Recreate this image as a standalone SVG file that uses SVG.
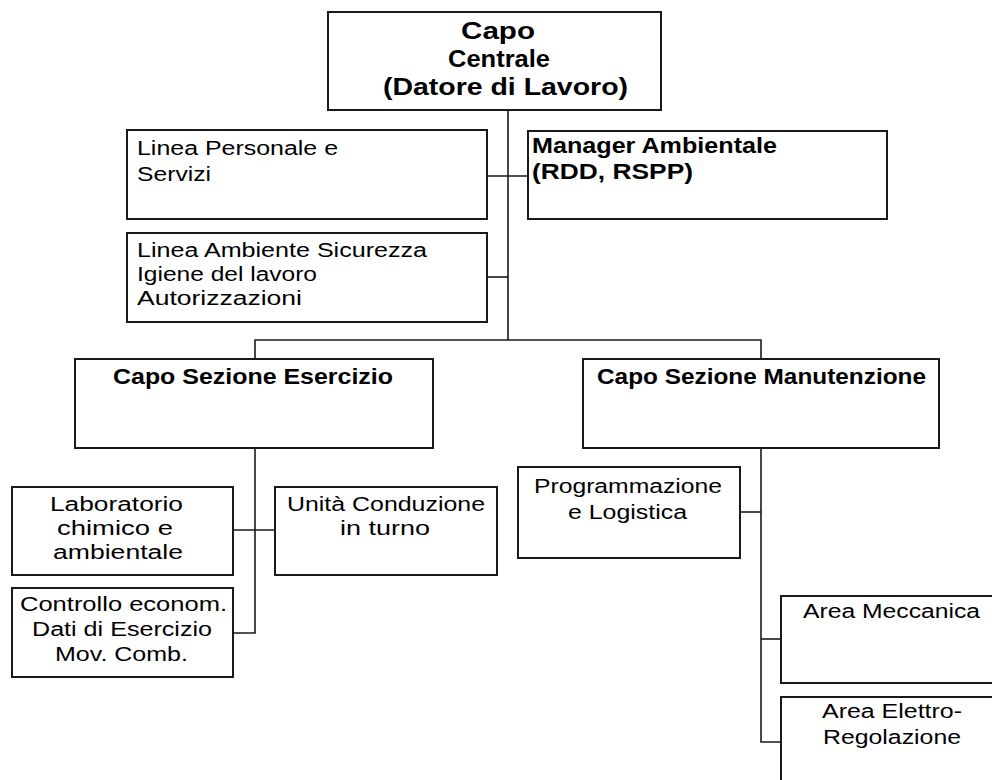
<svg xmlns="http://www.w3.org/2000/svg" width="992" height="780" viewBox="0 0 992 780">
<style>
.box{fill:#fff;stroke:#1a1a1a;stroke-width:2}
.c{fill:none;stroke:#1a1a1a;stroke-width:1.6}
text{font-family:"Liberation Sans",Arial,sans-serif;fill:#000}
.r{font-size:20px}
.b{font-size:22px;font-weight:bold}
.t{font-size:24px;font-weight:bold}
</style>
<rect width="992" height="780" fill="#fff"/>
<g id="connectors">
<path class="c" d="M508,110 V340"/>
<path class="c" d="M487,176 H528"/>
<path class="c" d="M487,277 H508"/>
<path class="c" d="M255,359 V340 H761 V359"/>
<path class="c" d="M255,448 V633 H233"/>
<path class="c" d="M233,530 H275"/>
<path class="c" d="M761,448 V742 H781"/>
<path class="c" d="M740,512 H761"/>
<path class="c" d="M761,639 H781"/>
</g>
<g id="capo-centrale">
<rect class="box" x="328" y="12" width="333" height="98"/>
<text class="t" x="461" y="39" textLength="74" lengthAdjust="spacingAndGlyphs">Capo</text>
<text class="t" x="448" y="67" textLength="102" lengthAdjust="spacingAndGlyphs">Centrale</text>
<text class="t" x="383" y="95" textLength="245" lengthAdjust="spacingAndGlyphs">(Datore di Lavoro)</text>
</g>
<g id="linea-personale">
<rect class="box" x="127" y="130" width="360" height="89"/>
<text class="r" x="137" y="155" textLength="201" lengthAdjust="spacingAndGlyphs">Linea Personale e</text>
<text class="r" x="137" y="181" textLength="74" lengthAdjust="spacingAndGlyphs">Servizi</text>
</g>
<g id="manager-ambientale">
<rect class="box" x="528" y="131" width="359" height="88"/>
<text class="b" x="532" y="153" textLength="245" lengthAdjust="spacingAndGlyphs">Manager Ambientale</text>
<text class="b" x="532" y="179" textLength="161" lengthAdjust="spacingAndGlyphs">(RDD, RSPP)</text>
</g>
<g id="linea-ambiente">
<rect class="box" x="127" y="233" width="360" height="89"/>
<text class="r" x="137" y="257" textLength="290" lengthAdjust="spacingAndGlyphs">Linea Ambiente Sicurezza</text>
<text class="r" x="137" y="281" textLength="180" lengthAdjust="spacingAndGlyphs">Igiene del lavoro</text>
<text class="r" x="137" y="305" textLength="165" lengthAdjust="spacingAndGlyphs">Autorizzazioni</text>
</g>
<g id="capo-sezione-esercizio">
<rect class="box" x="75" y="359" width="358" height="89"/>
<text class="b" x="113" y="384" textLength="280" lengthAdjust="spacingAndGlyphs">Capo Sezione Esercizio</text>
</g>
<g id="capo-sezione-manutenzione">
<rect class="box" x="583" y="359" width="356" height="89"/>
<text class="b" x="597" y="384" textLength="329" lengthAdjust="spacingAndGlyphs">Capo Sezione Manutenzione</text>
</g>
<g id="laboratorio">
<rect class="box" x="12" y="487" width="221" height="88"/>
<text class="r" x="50" y="511" textLength="133" lengthAdjust="spacingAndGlyphs">Laboratorio</text>
<text class="r" x="57" y="535" textLength="116" lengthAdjust="spacingAndGlyphs">chimico e</text>
<text class="r" x="53" y="559" textLength="130" lengthAdjust="spacingAndGlyphs">ambientale</text>
</g>
<g id="unita-conduzione">
<rect class="box" x="275" y="487" width="222" height="88"/>
<text class="r" x="287" y="511" textLength="198" lengthAdjust="spacingAndGlyphs">Unità Conduzione</text>
<text class="r" x="340" y="535" textLength="90" lengthAdjust="spacingAndGlyphs">in turno</text>
</g>
<g id="controllo">
<rect class="box" x="12" y="588" width="221" height="89"/>
<text class="r" x="20" y="611" textLength="207" lengthAdjust="spacingAndGlyphs">Controllo econom.</text>
<text class="r" x="32" y="636" textLength="180" lengthAdjust="spacingAndGlyphs">Dati di Esercizio</text>
<text class="r" x="55" y="661" textLength="133" lengthAdjust="spacingAndGlyphs">Mov. Comb.</text>
</g>
<g id="programmazione">
<rect class="box" x="518" y="467" width="222" height="91"/>
<text class="r" x="534" y="493" textLength="188" lengthAdjust="spacingAndGlyphs">Programmazione</text>
<text class="r" x="568" y="519" textLength="119" lengthAdjust="spacingAndGlyphs">e Logistica</text>
</g>
<g id="area-meccanica">
<rect class="box" x="781" y="596" width="220" height="87"/>
<text class="r" x="803" y="618" textLength="177" lengthAdjust="spacingAndGlyphs">Area Meccanica</text>
</g>
<g id="area-elettro">
<rect class="box" x="781" y="697" width="220" height="100"/>
<text class="r" x="822" y="718" textLength="140" lengthAdjust="spacingAndGlyphs">Area Elettro-</text>
<text class="r" x="823" y="744" textLength="138" lengthAdjust="spacingAndGlyphs">Regolazione</text>
</g>
</svg>
